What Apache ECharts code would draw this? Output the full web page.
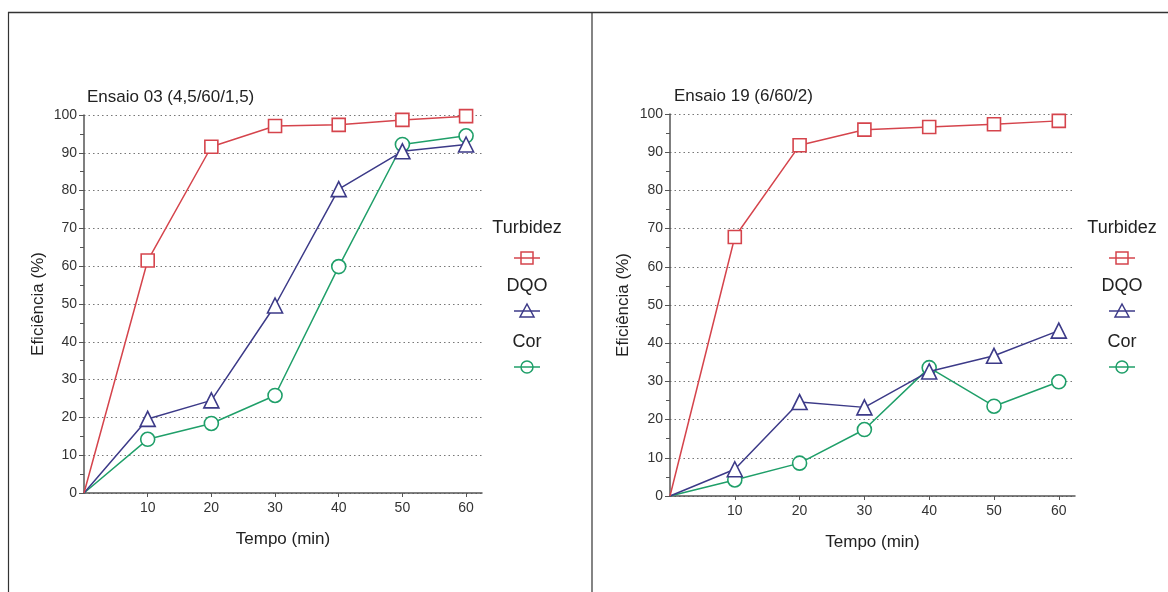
<!DOCTYPE html>
<html>
<head>
<meta charset="utf-8">
<script src="https://cdn.jsdelivr.net/npm/echarts@6/dist/echarts.min.js"></script>
<style>
  html, body { margin: 0; padding: 0; background: #fff; }
  #chart { width: 1168px; height: 592px; }
</style>
</head>
<body>
<div id="chart"></div>
<script>
// tempo (min)
const tempo = [0, 10, 20, 30, 40, 50, 60];

// Ensaio 03 (4,5/60/1,5)
const turbidez03 = [0, 61.5, 91.6, 97.1, 97.4, 98.7, 99.7];
const dqo03 = [0, 19.6, 24.5, 49.6, 80.4, 90.4, 92.2];
const cor03 = [0, 14.2, 18.4, 25.8, 59.9, 92.2, 94.5];

// Ensaio 19 (6/60/2)
const turbidez19 = [0, 67.8, 91.8, 95.9, 96.6, 97.3, 98.2];
const dqo19 = [0, 7.0, 24.6, 23.2, 32.6, 36.7, 43.3];
const cor19 = [0, 4.2, 8.6, 17.4, 33.6, 23.5, 29.9];

const seriesNames = ['Turbidez', 'DQO', 'Cor'];
const titles = ['Ensaio 03 (4,5/60/1,5)', 'Ensaio 19 (6/60/2)'];

const cores = ['#d5444c', '#3c3a88', '#1f9f69'];
const simbolos = ['rect', 'triangle', 'circle'];
const tamanhos = [13, 15, 14];
const FONT = 'Liberation Sans, Arial, sans-serif';

const chart = echarts.init(document.getElementById('chart'));

function pontos(vals) {
  return tempo.map((t, i) => i === 0 ? { value: [t, vals[i]], symbol: 'none' } : [t, vals[i]]);
}

function eixoX(idx) {
  return {
    type: 'value', gridIndex: idx, min: 0, max: 62.5, interval: 10,
    name: 'Tempo (min)', nameLocation: 'middle', nameGap: 38,
    nameTextStyle: { fontSize: 17, color: '#222', fontFamily: FONT },
    axisLine: { lineStyle: { color: '#555', width: 1.5 } },
    axisTick: { show: true, length: 4, lineStyle: { color: '#555' } },
    axisLabel: { showMinLabel: false, showMaxLabel: false, fontSize: 14, color: '#333', margin: 8, fontFamily: FONT },
    splitLine: { show: false }
  };
}

function eixoY(idx, gap) {
  return {
    type: 'value', gridIndex: idx, min: 0, max: 100, interval: 10,
    name: 'Eficiência (%)', nameLocation: 'middle', nameGap: gap,
    nameTextStyle: { fontSize: 17, color: '#222', fontFamily: FONT },
    axisLine: { show: true, lineStyle: { color: '#555', width: 1.5 } },
    axisTick: { show: true, length: 5, lineStyle: { color: '#555' } },
    minorTick: { show: true, splitNumber: 2, length: 4, lineStyle: { color: '#555' } },
    axisLabel: { fontSize: 14, color: '#333', margin: 7, fontFamily: FONT },
    splitLine: { show: true, lineStyle: { color: '#777', type: [1.5, 3], width: 1 } }
  };
}

function serie(k, vals, idx) {
  return {
    name: seriesNames[k], type: 'line', xAxisIndex: idx, yAxisIndex: idx,
    data: pontos(vals),
    symbol: simbolos[k], symbolSize: tamanhos[k], showAllSymbol: true,
    itemStyle: { color: '#fff', borderColor: cores[k], borderWidth: 1.6 },
    lineStyle: { color: cores[k], width: 1.5 },
    z: 3 - k
  };
}

// legenda: texto acima do símbolo, como no original
function legenda(cx) {
  const els = [];
  const ys = [228, 258, 286, 311, 342, 367];
  seriesNames.forEach((nome, k) => {
    els.push({
      type: 'text', x: cx, y: ys[k * 2],
      style: { text: nome, fontSize: 18, fill: '#222', fontFamily: FONT, align: 'center', verticalAlign: 'middle' }
    });
    const y = ys[k * 2 + 1];
    let forma;
    if (k === 0) forma = { type: 'rect', shape: { x: cx - 6, y: y - 6, width: 12, height: 12 } };
    else if (k === 1) forma = { type: 'polygon', shape: { points: [[cx, y - 7], [cx + 7, y + 6], [cx - 7, y + 6]] } };
    else forma = { type: 'circle', shape: { cx: cx, cy: y, r: 6 } };
    forma.style = { fill: 'none', stroke: cores[k], lineWidth: 1.5 };
    els.push(forma);
    els.push({
      type: 'line', shape: { x1: cx - 13, y1: y, x2: cx + 13, y2: y },
      style: { stroke: cores[k], lineWidth: 1.5 }
    });
  });
  return els;
}

const bordas = [
  { type: 'line', shape: { x1: 8, y1: 12.5, x2: 1168, y2: 12.5 }, style: { stroke: '#333', lineWidth: 1.5 } },
  { type: 'line', shape: { x1: 8.5, y1: 12, x2: 8.5, y2: 592 }, style: { stroke: '#333', lineWidth: 1.2 } },
  { type: 'line', shape: { x1: 592, y1: 12, x2: 592, y2: 592 }, style: { stroke: '#333', lineWidth: 1.2 } }
];

chart.setOption({
  backgroundColor: '#fff',
  animation: false,
  title: [
    { text: titles[0], left: 82, top: 84, textStyle: { fontSize: 17, fontWeight: 'normal', color: '#222', fontFamily: FONT } },
    { text: titles[1], left: 669, top: 83, textStyle: { fontSize: 17, fontWeight: 'normal', color: '#222', fontFamily: FONT } }
  ],
  grid: [
    { left: 84, top: 115, width: 398, height: 378 },
    { left: 670, top: 114, width: 405, height: 382 }
  ],
  xAxis: [eixoX(0), eixoX(1)],
  yAxis: [eixoY(0, 37), eixoY(1, 38)],
  series: [
    serie(0, turbidez03, 0), serie(1, dqo03, 0), serie(2, cor03, 0),
    serie(0, turbidez19, 1), serie(1, dqo19, 1), serie(2, cor19, 1)
  ],
  graphic: bordas.concat(legenda(527), legenda(1122))
});
</script>
</body>
</html>
